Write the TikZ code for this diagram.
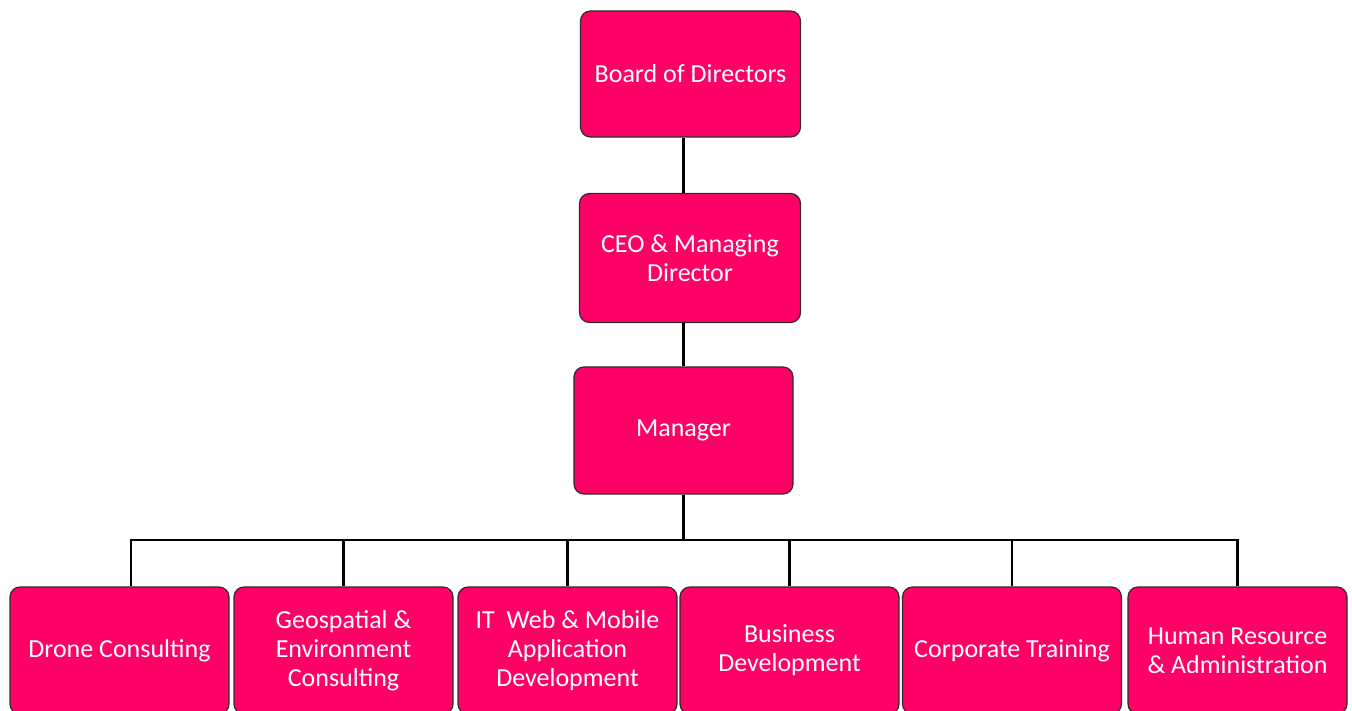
\documentclass[tikz,border=0pt]{standalone}
\usepackage{fontspec}
\setmainfont{Carlito}
\usetikzlibrary{positioning}
\definecolor{rosered}{RGB}{255, 0, 102}
\definecolor{boxline}{RGB}{45, 45, 45}
\tikzset{
  unit/.style={draw=boxline, fill=rosered, line width=1.2pt, rounded corners=10pt,
               minimum width=219pt, minimum height=127pt, inner sep=0pt,
               text=white, align=center, font=\fontsize{26}{29}\selectfont},
  link/.style={line width=2.7pt, black}
}
\begin{document}
\begin{tikzpicture}[x=1pt, y=-1pt]
            \useasboundingbox (0,0) rectangle (1352,711);
            % top of the chart
            \node[unit, minimum width=220pt, minimum height=126pt] (board)   at ( 690.5,  74.0) {Board of Directors};
            \node[unit, minimum width=221pt, minimum height=129pt] (ceo)     at ( 690.0, 258.0) {CEO \& Managing\\Director};
            \node[unit]                                            (manager) at ( 683.5, 430.5) {Manager};
            % departments
            \node[unit] (drone)    at ( 119.5, 650.5) {Drone Consulting};
            \node[unit] (geo)      at ( 343.5, 650.5) {Geospatial \&\\Environment\\Consulting};
            \node[unit] (itweb)    at ( 567.5, 650.5) {IT\ \ Web \& Mobile\\Application\\Development};
            \node[unit] (business) at ( 789.5, 650.5) {Business\\Development};
            \node[unit] (training) at (1012.0, 650.5) {Corporate Training};
            \node[unit] (hr)       at (1237.5, 650.5) {Human Resource\\\& Administration};
            \coordinate (bus) at (683.5, 540);
            % connectors
            \draw[link] (board.south -| manager) -- (ceo.north -| manager);
            \draw[link] (ceo.south -| manager) -- (manager.north);
            \draw[link] (manager.south) -- (bus);
            \draw[link] ([xshift=11.5pt]drone.north) |- (hr.north |- bus) -- (hr.north);
            \foreach \dept in {geo, itweb, business, training}
                \draw[link] (\dept.north) -- (\dept.north |- bus);
\end{tikzpicture}
\end{document}
